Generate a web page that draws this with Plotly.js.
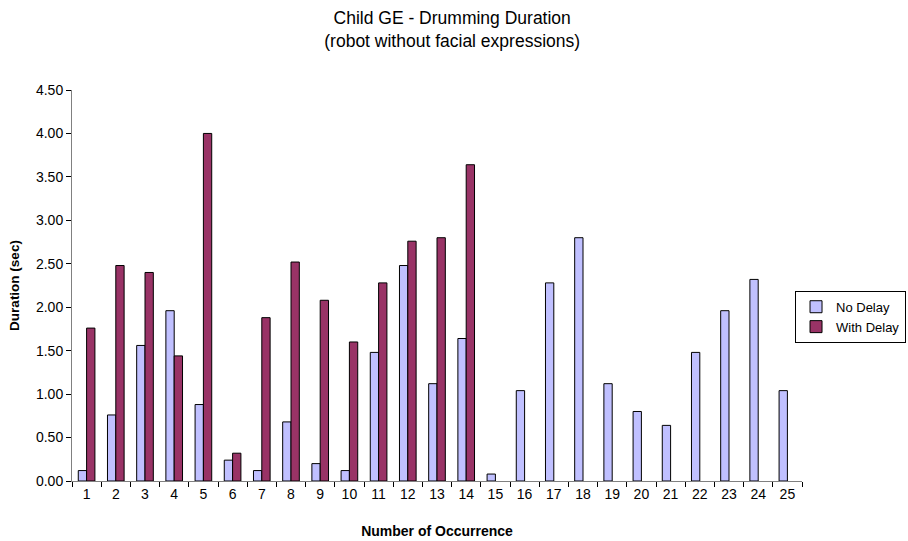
<!DOCTYPE html>
<html>
<head>
<meta charset="utf-8">
<script src="https://cdn.plot.ly/plotly-3.0.1.min.js"></script>
<style>html,body{margin:0;padding:0;background:#fff;}#chart{width:908px;height:541px;}</style>
</head>
<body>
<div id="chart"></div>
<script>
const categories = ["1","2","3","4","5","6","7","8","9","10","11","12","13","14","15","16","17","18","19","20","21","22","23","24","25"];
const noDelay = [0.12,0.76,1.56,1.96,0.88,0.24,0.12,0.68,0.20,0.12,1.48,2.48,1.12,1.64,0.08,1.04,2.28,2.80,1.12,0.80,0.64,1.48,1.96,2.32,1.04];
const withDelay = [1.76,2.48,2.40,1.44,4.00,0.32,1.88,2.52,2.08,1.60,2.28,2.76,2.80,3.64,null,null,null,null,null,null,null,null,null,null,null];
const yTicks = [0,0.5,1,1.5,2,2.5,3,3.5,4,4.5];

const font = "Liberation Sans, Arial, sans-serif";
const traces = [
  {type:"bar", name:"No Delay", x:categories, y:noDelay,
   marker:{color:"#C0C0FF", line:{color:"#000000", width:1}}},
  {type:"bar", name:"With Delay", x:categories, y:withDelay,
   marker:{color:"#993366", line:{color:"#000000", width:1}}}
];
const layout = {
  width:908, height:541,
  paper_bgcolor:"#ffffff", plot_bgcolor:"#ffffff",
  margin:{l:72, r:106, t:90, b:60, autoexpand:false},
  font:{family:font, size:14, color:"#000"},
  title:{text:"Child GE - Drumming Duration<br>(robot without facial expressions)",
         font:{family:font, size:17.5, color:"#000"}, x:0.498, xanchor:"center", y:0.955, yanchor:"top"},
  barmode:"group", bargap:0.43, bargroupgap:0,
  showlegend:true,
  legend:{x:1.1425, xanchor:"right", y:0.42, yanchor:"middle", bordercolor:"#000", borderwidth:1,
          font:{family:font, size:13, color:"#000"}, bgcolor:"#fff", tracegroupgap:0, itemwidth:30},
  xaxis:{type:"category", showline:true, linecolor:"#808080", linewidth:1, ticks:"outside", ticklen:5,
         tickcolor:"#000", tickson:"boundaries", showgrid:false, zeroline:false,
         tickfont:{family:font, size:14},
         title:{text:"<b>Number of Occurrence</b>", font:{family:font, size:14}, standoff:25}},
  yaxis:{range:[0,4.5], tickvals:yTicks, tickformat:".2f", showline:true, linecolor:"#808080", linewidth:1,
         ticks:"outside", ticklen:5, tickcolor:"#000", showgrid:false, zeroline:false,
         tickfont:{family:font, size:14},
         title:{text:"<b>Duration (sec)</b>", font:{family:font, size:13.5}, standoff:13}}
};
Plotly.newPlot("chart", traces, layout, {displayModeBar:false, staticPlot:true});
</script>
</body>
</html>
